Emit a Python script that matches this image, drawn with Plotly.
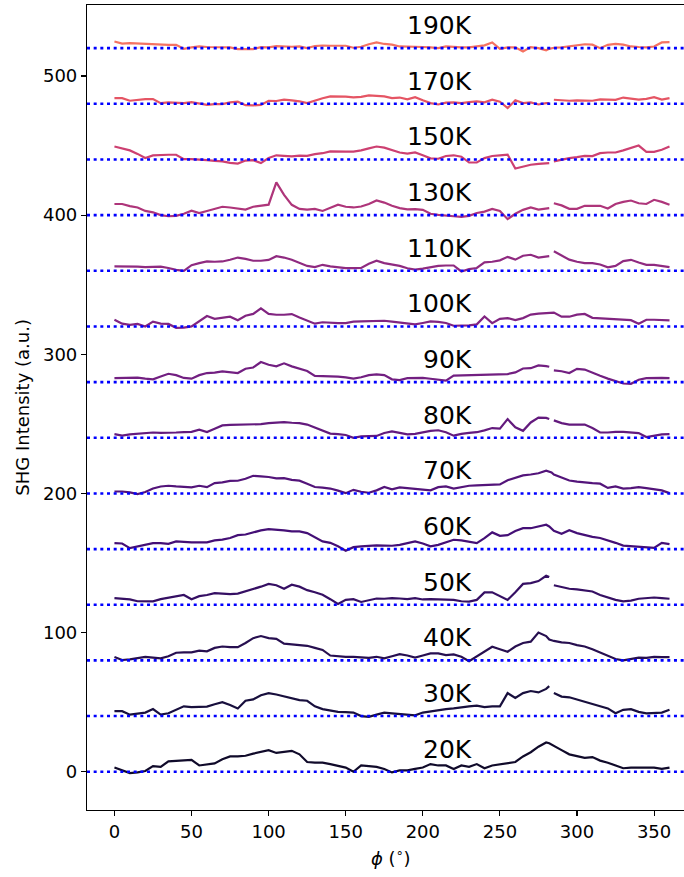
import plotly.graph_objects as go

# ---------------- data ----------------
phi = [0, 5, 10, 15, 20, 25, 30, 35, 40, 45,
       50, 55, 60, 65, 70, 75, 80, 85, 90, 95,
       100, 105, 110, 115, 120, 125, 130, 135, 140, 145,
       150, 155, 160, 165, 170, 175, 180, 185, 190, 195,
       200, 205, 210, 215, 220, 225, 230, 235, 240, 245,
       250, 255, 260, 265, 270, 275, 280, 282, 283.5,
       285, 290, 295, 300, 305, 310, 315, 320, 325, 330, 335, 340, 345, 350, 355, 360]

temps = [20, 30, 40, 50, 60, 70, 80, 90, 100, 110, 130, 150, 170, 190]
offsets = [0, 40, 80, 120, 160, 200, 240, 280, 320, 360, 400, 440, 480, 520]
labels = ["20K", "30K", "40K", "50K", "60K", "70K", "80K", "90K", "100K", "110K",
          "130K", "150K", "170K", "190K"]

shg_20K = [3, 1, -1, -0.5, 0.5, 4, 3.5, 7.5, 8, 8,
           8.5, 4.5, 5.5, 6, 9, 11, 11, 11.5, 13, 14.5,
           15.5, 13.5, 14.5, 15, 12.5, 7, 6.5, 6.5, 5.5, 4.5,
           3, 0, 4.5, 4, 3.5, 2, -0.5, 1, 1, 2,
           3, 5.5, 4.5, 4.5, 2, 4.5, 3.5, 5.5, 2.5, 4.5,
           5.5, 6.5, 7, 11, 14, 18, 21, 20.5, 19.5,
           18.5, 15.5, 12.5, 11, 10, 10.5, 8, 6.5, 4.5, 2.5, 3, 3, 3.5, 3, 2, 3]
shg_30K = [3.5, 3.5, 1, 2, 2.5, 5, 1, 2, 4.5, 7,
           6.5, 6.5, 6.8, 8.5, 10, 8, 5.5, 11, 12, 15,
           16.5, 15.5, 14, 13, 11.5, 11, 7, 5, 4, 3,
           2.8, 2.5, 0, -0.5, 1, 2.5, 2, 1.5, 1, 0.5,
           2.5, 3.5, 4, 5, 5.5, 6.5, 7, 7.5, 6.5, 7,
           7, 16.5, 13, 16.5, 18, 17, 19.5, 21.5, None,
           16.5, 14, 13.5, 12, 10.5, 9, 7.5, 5.5, 2, 4.5, 5, 3, 2, 2.5, 2.5, 4.5]
shg_40K = [2.5, 0.3, 0.7, 1.8, 2.5, 2, 1.5, 3, 5.5, 5.8,
           5.8, 7, 6.5, 9, 10, 9.5, 9.5, 12.5, 16, 17.5,
           16, 15.5, 12, 11.5, 11, 10.5, 9, 7.5, 3.5, 2.8,
           2.6, 2.5, 2, 1.8, 2.6, 1.5, 3, 4.5, 3.5, 2,
           3.5, 5, 5, 3.8, 4.3, 2.6, -0.5, 3, 6.2, 9.8,
           8, 6.2, 10, 12.5, 13.5, 20, 17.5, 15, 14.5,
           14, 13, 12.5, 11, 10, 8, 5.5, 3, 1, 0, 0.8, 2, 1.8, 2.5, 2.4, 2.4]
shg_50K = [4.8, 4.5, 3.8, 2.5, 2.2, 2.4, 4, 5, 6, 7,
           4, 6.2, 7, 8.4, 8, 7.7, 8, 9.5, 11, 13,
           15, 14, 11.5, 14.4, 13, 10.5, 9, 7.2, 4, 0.5,
           3.5, 4, 2, 3.3, 4.5, 4.3, 4.8, 4.5, 4, 4.8,
           3.8, 4, 4, 4, 3.5, 2.5, 2.2, 3.5, 8.9, 9,
           6, 3.5, 9, 15, 15.5, 17, 20.8, 19.9, None,
           14, 12.5, 11.5, 11, 10.5, 9.5, 7, 5, 3.5, 2.5, 3, 4.3, 5, 5.2, 4.8, 4.3]
shg_60K = [4.3, 4, 0.7, 2, 3.5, 4.3, 4.3, 3.8, 5.5, 5,
           4.8, 4.8, 4.8, 6.2, 6.8, 8, 10, 10.5, 12.2, 13.4,
           14.4, 14.2, 13.5, 12.7, 12.7, 11.5, 8.3, 5.5, 4.5, 2,
           -1.2, 1.4, 2, 2.4, 2.6, 2.5, 2.4, 3, 4.5, 5.5,
           4, 2, 3, 5, 6.7, 6.2, 5.3, 4.3, 7.9, 12,
           9.5, 10, 13, 15, 15, 16, 17.5, 16.3, 15,
           13.2, 11, 13.5, 11.5, 10, 8.8, 8, 6.5, 4.5, 2.5, 2, 1.5, 1.2, 0.8, 4.5, 3.6]
shg_70K = [1.4, 1.4, 0.7, -0.5, 1, 3.5, 5, 5.5, 5, 4.5,
           4.3, 5.5, 4.5, 7.4, 7.9, 9, 9.1, 10.5, 12.7, 12.2,
           11.8, 10.8, 11, 9.8, 9.2, 7, 4.6, 4.2, 3.5, 2,
           0.2, 2.6, 1.2, 0.5, 2.2, 4.6, 3, 4.3, 4, 3.3,
           2.8, 2.2, 4.5, 5, 3.5, 4.5, 5.5, 5.8, 6, 6.2,
           6.5, 9.5, 11, 13, 13.6, 14.5, 16.3, 15.8, 15,
           13.5, 11.5, 9.3, 8.5, 7.8, 7.4, 7, 4, 5, 3.5, 3.8, 4.5, 3.8, 2.8, 2.2, 0.2]
shg_80K = [2.6, 1.5, 2.4, 2.9, 3.2, 3.8, 3.5, 3.4, 3.8, 4.1,
           4.2, 5.8, 4.1, 6.5, 8.9, 9.2, 9.3, 9.6, 10, 9.8,
           10.5, 10.8, 11.3, 10.8, 10.5, 9.5, 7.5, 5, 3, 2.6,
           2, 0, 1, 1.2, 1.3, 3.4, 4.6, 3.5, 2.4, 2.8,
           4, 5, 5.4, 4, 1.5, 2.8, 3.5, 4, 5.3, 7,
           6.5, 13.4, 7.5, 5, 11, 14.5, 14.3, 13.5, None,
           12.5, 10.5, 9.5, 9.3, 9.5, 7, 3.8, 3.8, 4.3, 4.2, 3.6, 3.4, 0.5, 1.5, 2.4, 2.6]
shg_90K = [2.9, 2.9, 2.9, 3.2, 2.5, 2, 4, 6, 5, 3,
           2.5, 5, 6.5, 6.8, 7.7, 7.2, 6.5, 9.6, 10.5, 14.4,
           12.5, 11.3, 13.5, 11.3, 9.5, 8, 4.5, 4.3, 4.6, 4,
           3.4, 2.5, 3.5, 5, 5.5, 5, 2, 1.5, 2.9, 3,
           3, 2.4, 1.8, 1, 4.6, 4.8, 4.8, 4.8, 5, 5.3,
           5.3, 5.8, 7, 9.8, 10, 12, 11.5, 11, None,
           8.4, 7.8, 6.5, 9.5, 9, 6.5, 4.5, 2.5, 0.5, -1, -1.2, 1.7, 2.9, 3.2, 3, 2.9]
shg_100K = [4.8, 2, 1.2, 1.8, 0, 3.5, 2, 1.8, -1, -0.8,
            0, 4, 7.5, 5.5, 6, 7, 4.5, 7.7, 9, 13,
            9, 8.4, 8.4, 8.9, 6.5, 4, 2, 3, 2.6, 2.4,
            2.4, 3.4, 3.6, 3.6, 3.8, 4.1, 3.5, 2.8, 2.5, 1.5,
            2.5, 3.6, 3.3, 2.5, 0.5, 0.5, 0.8, 1.5, 7.2, 2.4,
            5.5, 6, 4.5, 6, 8.5, 9.2, 9.6, 9.8, 10,
            10, 7, 7, 8.5, 9, 6.2, 5.8, 5.5, 5, 4.8, 4.5, 1.9, 4.8, 4.8, 4.5, 4.3]
shg_110K = [3.1, 3.2, 3.1, 3, 2.6, 2.8, 3, 2, 0.7, 0,
            4, 5.5, 6.7, 6.5, 6.7, 7.9, 9.5, 8.5, 7.2, 7.2,
            7.8, 10.5, 9.5, 7.9, 5.5, 3.5, 2.6, 4.3, 3.2, 2.5,
            1.9, 1.9, 2, 5, 7.2, 5.5, 4.5, 3.5, 1.8, 0.8,
            1.5, 2.6, 3.5, 3.8, 3.8, -0.5, 1.2, 2, 6, 6.5,
            7.5, 10, 8, 10.8, 11.5, 9.5, 10.3, 10.5, None,
            14, 11, 8, 6.5, 5.5, 5.5, 4.5, 2.5, 3.5, 7, 7.9, 6, 4.3, 4.3, 3.5, 2.6]
shg_130K = [8, 8, 6.5, 5.5, 3, 2, 0, -0.8, -0.5, 1,
            3.2, 1.5, 3, 4.5, 6, 5.5, 5, 4, 6, 6.5,
            7.5, 23.5, 14.5, 7.4, 4.5, 4, 4.5, 3, 5, 7.5,
            6, 5.5, 6.2, 8, 10.5, 9, 6.7, 5, 4.2, 4.3,
            3.8, 1, 0.2, -0.5, -0.8, -1.3, -0.5, 1.5, 2.5, 4.5,
            3, -2.9, 1, 3.8, 5.5, 4, 5, 5, None,
            8.5, 7, 4.5, 4.5, 6.7, 6.7, 6.7, 4.8, 8, 9.5, 10.5, 8.5, 8, 11, 9.5, 7.4]
shg_150K = [9.3, 8, 6.5, 4, 1, 2.9, 3.4, 3.4, 3.4, 0.2,
            0.2, 0, -0.5, -1, -1.4, -2.5, -3, -0.8, -0.5, -2.6,
            1, 3, 2.5, 2.2, 2.8, 2.6, 3.8, 4.5, 5.8, 5.5,
            5.6, 5.7, 6.5, 8, 9.3, 8.5, 6.5, 5, 4.2, 5,
            3, 0.8, 0.5, 2.5, 3, 2, -2.2, -2.2, 1, 2.5,
            3, 3.5, -6.5, -5, -3.8, -3.2, -3, -2.6, None,
            -1.4, 0, 1, 1.7, 2.6, 2.4, 4.5, 5, 5, 6.5, 8.5, 10, 5.5, 5.5, 7, 9.3]
shg_170K = [4.1, 4.1, 2.2, 3, 3.4, 3.4, 0.5, 1, 1, 0.5,
            1.2, 0.5, -0.7, -0.2, -0.2, 1, 1.5, -1, -1.2, -0.8,
            2.2, 2, 3, 2.5, 1.8, 0.5, 2.5, 4, 5.3, 5.3,
            5.2, 4.6, 5, 6, 5.5, 5.3, 4.1, 4.5, 3.2, 4.8,
            2.5, 0.5, -0.5, 0.8, 1, 0.5, 1.2, 1.7, 1, 2.9,
            1.5, -3.1, 2.5, 0.5, 1, -0.5, 0.5, 0.5, None,
            2.9, 2.3, 2.2, 2.4, 2.3, 2.2, 3.2, 3, 2.8, 4.5, 3.6, 3, 3.5, 4.8, 3, 4.1]
shg_190K = [4.8, 3.2, 3.6, 3.3, 3, 2.8, 2.4, 2.4, 2.4, -0.5,
            0.5, 1.2, 0.8, 0.8, 0.8, 0.5, -0.7, -0.5, -0.7, 0.7,
            0.5, 1.5, 1, 1, 1.2, 0, 1.5, 1.9, 1.7, 1.7,
            1.7, 0.3, 1, 2.8, 4.1, 3, 2.5, 1.2, 1.2, 1.2,
            0.8, 0.5, 0, 1.2, 0.6, 0.5, 0.5, 1, 2, 4.1,
            -0.5, 0.5, 0.6, -2.4, 0.7, 0, -1.5, -0.5, 0,
            0.3, 0.6, 1.5, 2.4, 2.8, 2.5, 0, 2.4, 3, 2.5, 1.2, 0.8, 0.6, 1.2, 4.1, 4.3]

curves = [shg_20K, shg_30K, shg_40K, shg_50K, shg_60K, shg_70K, shg_80K,
          shg_90K, shg_100K, shg_110K, shg_130K, shg_150K, shg_170K, shg_190K]

xticks = [0, 50, 100, 150, 200, 250, 300, 350]
yticks = [0, 100, 200, 300, 400, 500]

# ---------------- styling ----------------
MAGMA = ['#000004', '#180f3d', '#440f76', '#721f81', '#9e2f7f',
         '#cd4071', '#f1605d', '#fd9668', '#feca8d', '#fcfdbf']


def hex2rgb(h):
    h = h.lstrip('#')
    return [int(h[i:i + 2], 16) for i in (0, 2, 4)]


def magma(v):
    n = len(MAGMA) - 1
    pos = max(0.0, min(1.0, v)) * n
    i = min(int(pos), n - 1)
    f = pos - i
    a, b = hex2rgb(MAGMA[i]), hex2rgb(MAGMA[i + 1])
    c = [round(a[k] + (b[k] - a[k]) * f) for k in range(3)]
    return f"rgb({c[0]},{c[1]},{c[2]})"


FONT = "DejaVu Sans"
W, H = 684, 877
ML, MR, MT, MB = 87.3, 0, 5.3, 67
PW = W - ML - MR
PH = H - MT - MB
TICK_SIZE = 18

fig = go.Figure()
for T, off, vals in zip(temps, offsets, curves):
    y = [None if v is None else v + off for v in vals]
    fig.add_trace(go.Scatter(x=phi, y=y, mode="lines", connectgaps=False,
                             line=dict(color=magma(T / 270.0), width=2.2),
                             showlegend=False, hoverinfo="skip"))

shapes = []
for off in offsets:
    shapes.append(dict(type="line", xref="paper", x0=0, x1=1, yref="y", y0=off, y1=off,
                       line=dict(color="#0000ff", width=2.6, dash="3px,3.67px"),
                       layer="above"))

annotations = []
for off, lab in zip(offsets, labels):
    annotations.append(dict(x=233.4, y=off + 16.3, xref="x", yref="y", text=lab,
                            showarrow=False, xanchor="right", yanchor="middle",
                            font=dict(family=FONT, size=25, color="black")))

# axis titles
annotations.append(dict(x=(391 - ML) / PW, y=-(857 - (MT + PH)) / PH, xref="paper", yref="paper",
                        text="<i>ϕ</i> (<sup>∘</sup>)", showarrow=False,
                        xanchor="center", yanchor="middle",
                        font=dict(family=FONT, size=TICK_SIZE, color="black")))
annotations.append(dict(x=(22.5 - ML) / PW, y=0.5, xref="paper", yref="paper",
                        text="SHG Intensity (a.u.)", showarrow=False, textangle=-90,
                        xanchor="center", yanchor="middle",
                        font=dict(family=FONT, size=TICK_SIZE, color="black")))

fig.update_layout(
    width=W, height=H,
    margin=dict(l=ML, r=MR, t=MT, b=MB, pad=0),
    paper_bgcolor="white", plot_bgcolor="white",
    shapes=shapes, annotations=annotations,
    font=dict(family=FONT, size=TICK_SIZE, color="black"),
    xaxis=dict(range=[-17.8, 369.4], tickvals=xticks, ticks="outside", ticklen=5,
               tickwidth=1.1, tickcolor="black", showline=True, linecolor="black",
               linewidth=1.1, mirror=True, showgrid=False, zeroline=False,
               tickfont=dict(family=FONT, size=TICK_SIZE, color="black")),
    yaxis=dict(range=[-27.5, 551], tickvals=yticks, ticks="outside", ticklen=5,
               tickwidth=1.1, tickcolor="black", showline=True, linecolor="black",
               linewidth=1.1, showgrid=False, zeroline=False,
               tickfont=dict(family=FONT, size=TICK_SIZE, color="black")),
)

fig.write_html("out.html", config={"displayModeBar": False, "staticPlot": True},
               post_script="document.body.style.margin='0px';document.body.style.overflow='hidden';")
